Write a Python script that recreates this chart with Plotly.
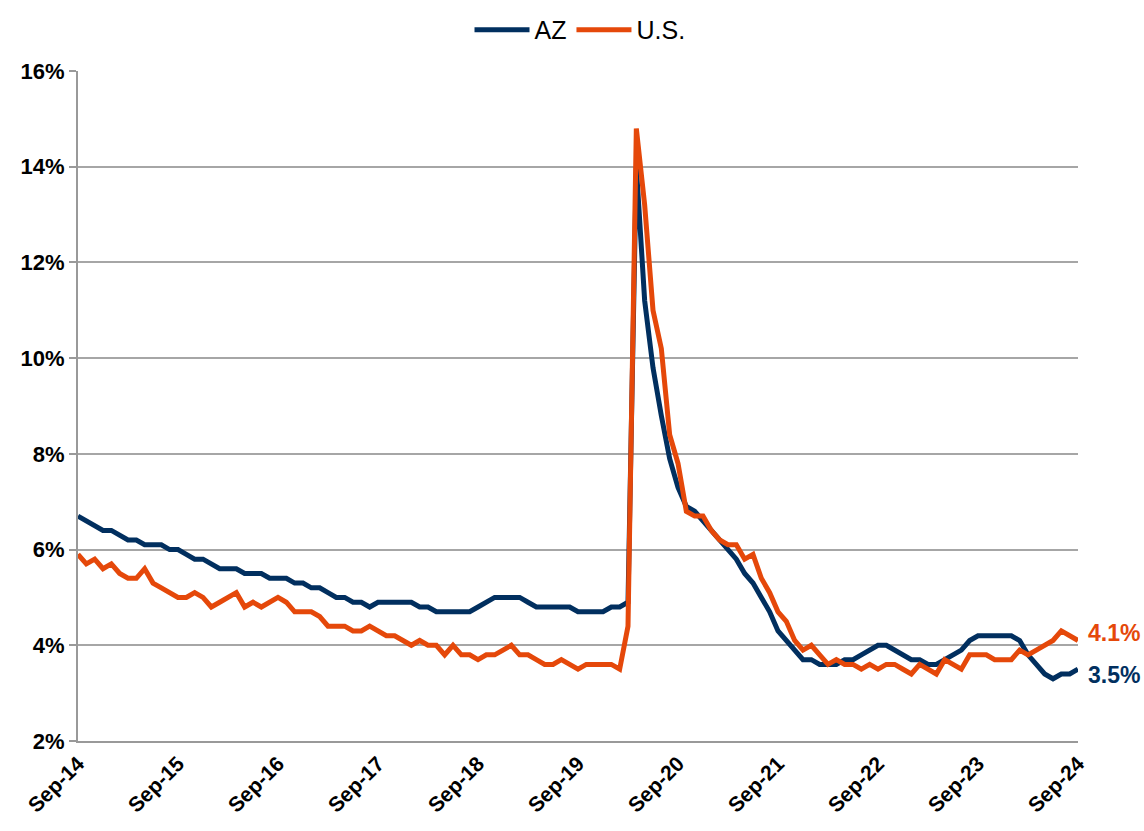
import plotly.graph_objects as go

# Monthly unemployment rate, Sep-2014 .. Sep-2024 (121 months)
months = list(range(121))
tick_labels = ["Sep-14", "Sep-15", "Sep-16", "Sep-17", "Sep-18", "Sep-19",
               "Sep-20", "Sep-21", "Sep-22", "Sep-23", "Sep-24"]
tick_positions = [0, 12, 24, 36, 48, 60, 72, 84, 96, 108, 120]

az = [6.7, 6.6, 6.5, 6.4, 6.4, 6.3, 6.2, 6.2, 6.1, 6.1, 6.1, 6.0, 6.0, 5.9, 5.8, 5.8,
      5.7, 5.6, 5.6, 5.6, 5.5, 5.5, 5.5, 5.4, 5.4, 5.4, 5.3, 5.3, 5.2, 5.2, 5.1, 5.0,
      5.0, 4.9, 4.9, 4.8, 4.9, 4.9, 4.9, 4.9, 4.9, 4.8, 4.8, 4.7, 4.7, 4.7, 4.7, 4.7,
      4.8, 4.9, 5.0, 5.0, 5.0, 5.0, 4.9, 4.8, 4.8, 4.8, 4.8, 4.8, 4.7, 4.7, 4.7, 4.7,
      4.8, 4.8, 4.9, 14.0, 11.2, 9.8, 8.8, 7.9, 7.3, 6.9, 6.8, 6.6, 6.4, 6.2, 6.0, 5.8,
      5.5, 5.3, 5.0, 4.7, 4.3, 4.1, 3.9, 3.7, 3.7, 3.6, 3.6, 3.6, 3.7, 3.7, 3.8, 3.9,
      4.0, 4.0, 3.9, 3.8, 3.7, 3.7, 3.6, 3.6, 3.7, 3.8, 3.9, 4.1, 4.2, 4.2, 4.2, 4.2,
      4.2, 4.1, 3.8, 3.6, 3.4, 3.3, 3.4, 3.4, 3.5]

us = [5.9, 5.7, 5.8, 5.6,
      5.7, 5.5, 5.4, 5.4, 5.6, 5.3, 5.2, 5.1, 5.0, 5.0, 5.1, 5.0,
      4.8, 4.9, 5.0, 5.1, 4.8, 4.9, 4.8, 4.9, 5.0, 4.9, 4.7, 4.7,
      4.7, 4.6, 4.4, 4.4, 4.4, 4.3, 4.3, 4.4, 4.3, 4.2, 4.2, 4.1,
      4.0, 4.1, 4.0, 4.0, 3.8, 4.0, 3.8, 3.8, 3.7, 3.8, 3.8, 3.9,
      4.0, 3.8, 3.8, 3.7, 3.6, 3.6, 3.7, 3.6, 3.5, 3.6, 3.6, 3.6,
      3.6, 3.5, 4.4, 14.8, 13.2, 11.0, 10.2, 8.4, 7.8, 6.8, 6.7, 6.7,
      6.4, 6.2, 6.1, 6.1, 5.8, 5.9, 5.4, 5.1, 4.7, 4.5, 4.1, 3.9,
      4.0, 3.8, 3.6, 3.7, 3.6, 3.6, 3.5, 3.6, 3.5, 3.6, 3.6, 3.5,
      3.4, 3.6, 3.5, 3.4, 3.7, 3.6, 3.5, 3.8, 3.8, 3.8, 3.7, 3.7,
      3.7, 3.9, 3.8, 3.9, 4.0, 4.1, 4.3, 4.2, 4.1]

NAVY = "#012F5F"
ORANGE = "#E5480A"
FONT = "Liberation Sans, Arial, sans-serif"

fig = go.Figure()
fig.add_trace(go.Scatter(x=months, y=az, name="AZ", mode="lines",
                         line=dict(color=NAVY, width=5)))
fig.add_trace(go.Scatter(x=months, y=us, name="U.S.", mode="lines",
                         line=dict(color=ORANGE, width=5)))

fig.add_annotation(x=months[-1], y=us[-1], text="<b>%.1f%%</b>" % us[-1],
                   xanchor="left", yanchor="middle", xshift=8, yshift=8,
                   showarrow=False, font=dict(family=FONT, size=23, color=ORANGE))
fig.add_annotation(x=months[-1], y=az[-1], text="<b>%.1f%%</b>" % az[-1],
                   xanchor="left", yanchor="middle", xshift=8, yshift=-6,
                   showarrow=False, font=dict(family=FONT, size=23, color=NAVY))

fig.update_layout(
    width=1144, height=831,
    margin=dict(l=78, r=66, t=71, b=90),
    paper_bgcolor="white", plot_bgcolor="white",
    font=dict(family=FONT, color="black"),
    legend=dict(orientation="h", x=0.507, xanchor="center", xref="container",
                y=0.964, yanchor="middle", yref="container",
                font=dict(family=FONT, size=25), itemwidth=55, traceorder="normal"),
    showlegend=True,
)
fig.update_xaxes(range=[0, 120], tickvals=tick_positions,
                 ticktext=["<b>%s</b>" % t for t in tick_labels],
                 tickangle=-45, tickfont=dict(family=FONT, size=21, color="black"),
                 showgrid=False, showline=True, linecolor="#999999", linewidth=2,
                 ticks="", zeroline=False, automargin=False)
fig.update_yaxes(range=[2, 16], dtick=2, tick0=2, tickprefix="<b>", ticksuffix="%</b>",
                 tickfont=dict(family=FONT, size=22, color="black"),
                 showgrid=True, gridcolor="#A6A6A6", gridwidth=2,
                 showline=True, linecolor="#999999", linewidth=2,
                 ticks="outside", ticklen=7, tickcolor="#999999", tickwidth=2,
                 zeroline=False, automargin=False)

fig.write_html("out.html", config={"displayModeBar": False},
               post_script="document.body.style.margin='0';document.body.style.overflow='hidden';")
